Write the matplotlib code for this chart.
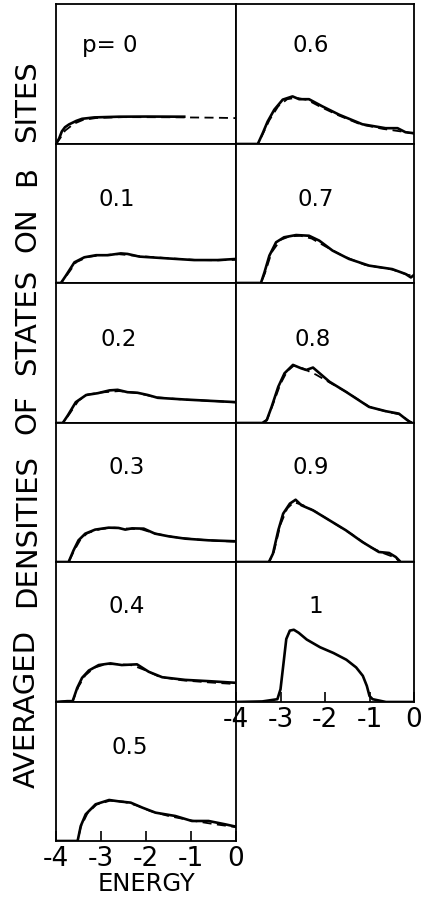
import matplotlib
matplotlib.use("Agg")
import matplotlib.pyplot as plt

plt.rcParams['font.family'] = ['DejaVu Sans']

# ---------------- data (energy, averaged DOS in panel-height units) ----------------
labels_left = ["p= 0", "0.1", "0.2", "0.3", "0.4", "0.5"]
labels_right = ["0.6", "0.7", "0.8", "0.9", "1"]
ylabel_words = ["AVERAGED", "DENSITIES", "OF", "STATES", "ON", "B", "SITES"]
xlabel_text = "ENERGY"

# p = 0
e00 = [-4, -3.93, -3.87, -3.8, -3.71, -3.55, -3.42, -3.15, -2.6, -2.0, -1.15]
d00 = [0, 0.04, 0.09, 0.12, 0.14, 0.165, 0.18, 0.19, 0.195, 0.196, 0.195]
e00d = [-4, -3.9, -3.8, -3.6, -3.4, -3.1, -2.5, -1.5, -0.5, 0]
d00d = [0, 0.045, 0.095, 0.145, 0.172, 0.186, 0.192, 0.191, 0.188, 0.185]

# p = 0.1
e01 = [-4, -3.89, -3.78, -3.59, -3.37, -3.11, -2.85, -2.56, -2.41, -2.15, -1.52, -0.93, -0.41, 0]
d01 = [0, 0, 0.053, 0.149, 0.185, 0.2, 0.2, 0.213, 0.209, 0.19, 0.177, 0.165, 0.165, 0.173]
e01d = [-4, -3.89, -3.75, -3.55, -3.3, -3.0, -2.6, -2.2, -1.5, -0.9, -0.4, 0]
d01d = [0, 0, 0.06, 0.15, 0.187, 0.2, 0.207, 0.195, 0.178, 0.166, 0.163, 0.167]

# p = 0.2
e02 = [-4, -3.85, -3.74, -3.56, -3.33, -3.07, -2.81, -2.63, -2.41, -2.19, -1.96, -1.74, -1.15, -0.56, 0]
d02 = [0, 0, 0.053, 0.149, 0.2, 0.213, 0.233, 0.237, 0.22, 0.216, 0.2, 0.18, 0.168, 0.158, 0.149]
e02d = [-4, -3.85, -3.7, -3.5, -3.3, -3.0, -2.6, -2.2, -1.8, -1.2, -0.5, 0]
d02d = [0, 0, 0.065, 0.16, 0.203, 0.218, 0.228, 0.215, 0.185, 0.168, 0.157, 0.147]

# p = 0.3
e03 = [-4, -3.72, -3.61, -3.5, -3.35, -3.13, -2.83, -2.61, -2.46, -2.31, -2.05, -1.8, -1.5, -1.13, -0.61, 0]
d03 = [0, 0, 0.084, 0.156, 0.204, 0.233, 0.247, 0.245, 0.233, 0.242, 0.24, 0.204, 0.185, 0.168, 0.156, 0.149]
e03d = [-4, -3.72, -3.6, -3.45, -3.3, -3.0, -2.7, -2.4, -2.1, -1.8, -1.4, -0.9, -0.4, 0]
d03d = [0, 0, 0.08, 0.165, 0.208, 0.238, 0.247, 0.24, 0.235, 0.205, 0.18, 0.163, 0.152, 0.146]

# p = 0.4
e04 = [-4, -3.75, -3.63, -3.53, -3.42, -3.27, -3.05, -2.79, -2.54, -2.2, -1.94, -1.64, -1.13, -0.61, 0]
d04 = [0, 0.006, 0.006, 0.1, 0.173, 0.225, 0.264, 0.276, 0.264, 0.269, 0.216, 0.177, 0.158, 0.149, 0.137]
e04d = [-4, -3.75, -3.63, -3.5, -3.35, -3.15, -2.9, -2.6, -2.3, -2.0, -1.7, -1.2, -0.6, 0]
d04d = [0, 0.006, 0.006, 0.11, 0.19, 0.245, 0.27, 0.27, 0.262, 0.225, 0.18, 0.155, 0.14, 0.128]

# p = 0.5
e05 = [-4, -3.52, -3.45, -3.34, -3.12, -2.82, -2.6, -2.34, -2.08, -1.79, -1.35, -0.98, -0.61, -0.24, 0]
d05 = [0, 0, 0.108, 0.192, 0.264, 0.295, 0.285, 0.276, 0.24, 0.204, 0.18, 0.144, 0.144, 0.12, 0.103]
e05d = [-4, -3.52, -3.45, -3.3, -3.1, -2.8, -2.5, -2.2, -1.9, -1.5, -1.0, -0.5, 0]
d05d = [0, 0, 0.1, 0.2, 0.262, 0.29, 0.283, 0.255, 0.215, 0.18, 0.148, 0.122, 0.1]

# p = 0.6
e06 = [-4, -3.51, -3.4, -3.29, -3.14, -2.95, -2.73, -2.58, -2.36, -2.06, -1.68, -1.16, -0.64, -0.37, -0.19, 0]
d06 = [0, 0, 0.077, 0.16, 0.245, 0.317, 0.34, 0.32, 0.32, 0.269, 0.209, 0.141, 0.113, 0.113, 0.084, 0.077]
e06d = [-4, -3.51, -3.4, -3.25, -3.05, -2.85, -2.65, -2.4, -2.1, -1.7, -1.2, -0.7, -0.3, 0]
d06d = [0, 0, 0.07, 0.17, 0.27, 0.32, 0.33, 0.315, 0.265, 0.205, 0.14, 0.108, 0.09, 0.075]

# p = 0.7
e07 = [-4, -3.44, -3.36, -3.25, -3.1, -2.92, -2.65, -2.36, -2.13, -1.83, -1.46, -1.01, -0.49, -0.19, -0.07, 0]
d07 = [0, 0, 0.077, 0.197, 0.293, 0.329, 0.345, 0.34, 0.305, 0.233, 0.173, 0.125, 0.1, 0.065, 0.04, 0.058]
e07d = [-4, -3.44, -3.35, -3.2, -3.0, -2.8, -2.55, -2.3, -2.0, -1.6, -1.1, -0.5, -0.15, 0]
d07d = [0, 0, 0.07, 0.22, 0.31, 0.335, 0.34, 0.32, 0.265, 0.195, 0.13, 0.098, 0.06, 0.05]

# p = 0.8
e08 = [-4, -3.41, -3.31, -3.2, -3.05, -2.91, -2.72, -2.53, -2.42, -2.27, -2.12, -1.9, -1.53, -1.01, -0.63, -0.34, -0.15, -0.05, 0]
d08 = [0, 0, 0.02, 0.115, 0.259, 0.355, 0.415, 0.39, 0.379, 0.396, 0.355, 0.295, 0.223, 0.115, 0.084, 0.067, 0.02, 0, 0]
e08d = [-4, -3.41, -3.3, -3.15, -3.0, -2.85, -2.7, -2.5, -2.2, -1.9, -1.5, -1.0, -0.6, -0.3, -0.1, 0]
d08d = [0, 0, 0.025, 0.15, 0.28, 0.37, 0.41, 0.39, 0.345, 0.29, 0.218, 0.115, 0.08, 0.06, 0.01, 0]

# p = 0.9
e09 = [-4, -3.26, -3.17, -3.05, -2.94, -2.79, -2.66, -2.53, -2.27, -1.9, -1.53, -1.16, -0.79, -0.56, -0.41, -0.3, 0]
d09 = [0, 0, 0.06, 0.228, 0.348, 0.42, 0.448, 0.408, 0.372, 0.3, 0.228, 0.144, 0.072, 0.065, 0.036, 0, 0]
e09d = [-4, -3.26, -3.15, -3.0, -2.85, -2.7, -2.5, -2.2, -1.8, -1.4, -1.0, -0.7, -0.45, -0.3, 0]
d09d = [0, 0, 0.07, 0.27, 0.385, 0.43, 0.41, 0.36, 0.28, 0.2, 0.11, 0.065, 0.035, 0.0, 0]

# p = 1
e10 = [-4, -3.41, -3.07, -3.0, -2.93, -2.87, -2.79, -2.7, -2.59, -2.41, -2.11, -1.81, -1.52, -1.3, -1.15, -1.06, -1.0, -0.93, -0.63, 0]
d10 = [0, 0.004, 0.02, 0.091, 0.283, 0.45, 0.51, 0.516, 0.494, 0.446, 0.391, 0.35, 0.302, 0.247, 0.187, 0.115, 0.043, 0.02, 0, 0]

solid_left = [(e00, d00), (e01, d01), (e02, d02), (e03, d03), (e04, d04), (e05, d05)]
dash_left = [(e00d, d00d), (e01d, d01d), (e02d, d02d), (e03d, d03d), (e04d, d04d), (e05d, d05d)]
solid_right = [(e06, d06), (e07, d07), (e08, d08), (e09, d09), (e10, d10)]
dash_right = [(e06d, d06d), (e07d, d07d), (e08d, d08d), (e09d, d09d), None]

xticks = [-4, -3, -2, -1, 0]
xtick_labels = ["-4", "-3", "-2", "-1", "0"]

# ---------------- layout ----------------
W, H = 422, 903
fig = plt.figure(figsize=(W / 100, H / 100), dpi=100)

row_edges = [5, 145, 284, 424, 563, 703, 842]
col_left = (56, 236)
col_right = (236, 414)

label_pos_left = [(0.30, 0.71), (0.34, 0.61), (0.35, 0.60), (0.39, 0.69), (0.39, 0.69), (0.41, 0.68)]
label_pos_right = [(0.42, 0.71), (0.45, 0.61), (0.43, 0.60), (0.42, 0.69), (0.45, 0.69)]

# pixel centres (from top) of the y-label words
ylabel_centres = [709, 531, 414, 322, 230, 176, 101]


def make_ax(col, r):
    x0, x1 = col
    y0, y1 = row_edges[r], row_edges[r + 1]
    ax = fig.add_axes([x0 / W, 1 - y1 / H, (x1 - x0) / W, (y1 - y0) / H])
    ax.set_xlim(-4, 0)
    ax.set_ylim(0, 1)
    for s in ax.spines.values():
        s.set_linewidth(1.3)
    ax.set_yticks([])
    return ax


def draw_panel(ax, solid, dash, label, lpos, bottom):
    ax.plot(solid[0], solid[1], color='black', lw=1.9, solid_joinstyle='round')
    if dash is not None:
        ax.plot(dash[0], dash[1], color='black', lw=1.3, dashes=(5, 3))
    ax.text(lpos[0], lpos[1], label, transform=ax.transAxes, ha='center', va='center',
            fontsize=16.5)
    if bottom:
        ax.set_xticks(xticks)
        ax.set_xticklabels(xtick_labels, fontsize=19)
        ax.tick_params(axis='x', direction='in', length=7.5, width=1.2, pad=3)
    else:
        ax.set_xticks([])


for i in range(6):
    ax = make_ax(col_left, i)
    draw_panel(ax, solid_left[i], dash_left[i], labels_left[i], label_pos_left[i], i == 5)
    if i == 5:
        ax.set_xlabel(xlabel_text, fontsize=17.5, labelpad=0)

for i in range(5):
    ax = make_ax(col_right, i)
    draw_panel(ax, solid_right[i], dash_right[i], labels_right[i], label_pos_right[i], i == 4)

for word, yc in zip(ylabel_words, ylabel_centres):
    fig.text(27 / W, 1 - yc / H, word, rotation=90, ha='center', va='center', fontsize=21)

fig.savefig("out.png", dpi=100)
